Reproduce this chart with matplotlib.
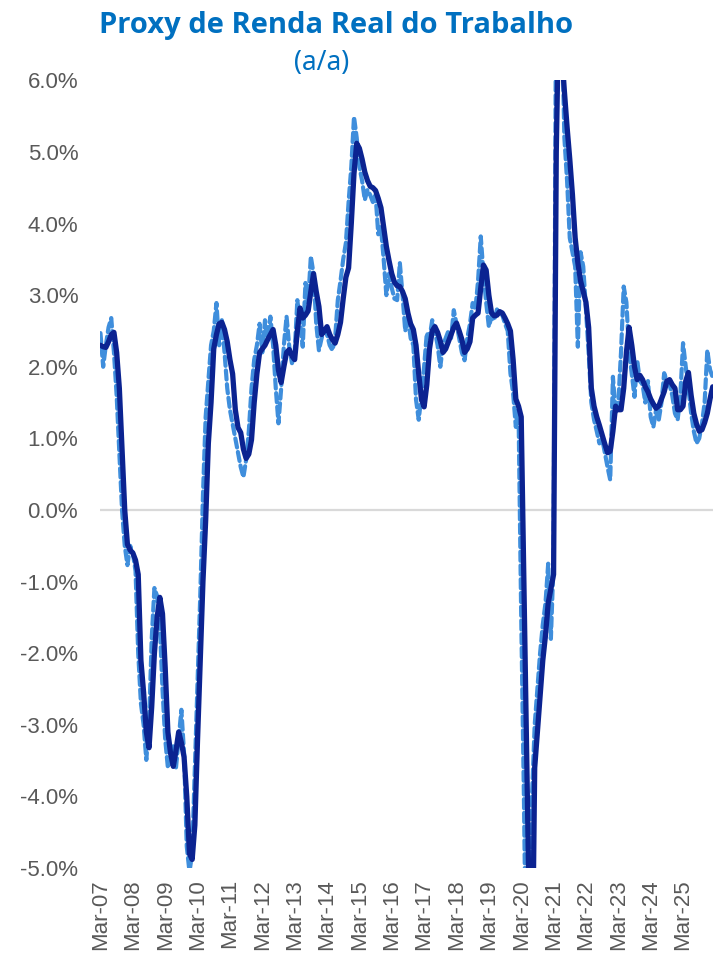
import matplotlib
matplotlib.use("Agg")
import matplotlib.pyplot as plt
import numpy as np

# Monthly series, Mar-07 onward (% a/a)
monthly = [
    2.47, 2.00, 2.30, 2.55, 2.68, 2.20, 1.60, 0.80, 0.00, -0.50,
    -0.77, -0.50, -0.60, -0.85, -2.00, -2.70, -3.00, -3.49, -3.00, -1.80,
    -1.09, -1.20, -1.60, -2.50, -3.20, -3.60, -3.45, -3.30, -3.60, -3.20,
    -2.79, -3.40, -4.70, -5.05, -4.80, -3.60, -2.40, -1.20, 0.20, 1.30,
    1.80, 2.30, 2.50, 2.89, 2.30, 2.65, 2.20, 1.70, 1.40, 1.20,
    1.00, 0.80, 0.60, 0.46, 0.70, 1.10, 1.70, 2.10, 2.30, 2.60,
    2.20, 2.65, 2.40, 2.70, 2.30, 1.70, 1.21, 1.70, 2.30, 2.70,
    2.28, 2.05, 2.20, 2.93, 2.60, 2.28, 3.17, 2.90, 3.54, 3.30,
    2.60, 2.23, 2.40, 2.51, 2.45, 2.30, 2.23, 2.40, 2.93, 3.20,
    3.50, 3.73, 4.30, 4.79, 5.49, 5.20, 4.79, 4.60, 4.33, 4.47,
    4.40, 4.30, 4.40, 3.85, 3.95, 3.50, 3.00, 3.30, 3.10, 2.95,
    2.93, 3.45, 3.00, 2.50, 2.70, 2.40, 2.30, 1.54, 1.26, 1.60,
    2.00, 2.47, 2.40, 2.65, 2.50, 2.30, 2.00, 2.30, 2.40, 2.50,
    2.40, 2.79, 2.60, 2.40, 2.20, 2.09, 2.40, 2.60, 2.89, 2.80,
    3.20, 3.82, 3.30, 2.90, 2.56, 2.70, 2.65, 2.80, 2.75, 2.72,
    2.60, 2.50, 1.91, 1.63, 1.16, 1.40, -1.50, -4.00, -7.00, -6.50,
    -4.00, -3.00, -2.50, -2.00, -1.60, -1.30, -0.75, -1.80, -0.70, 8.00,
    9.00, 7.00, 5.20, 4.60, 3.80, 3.60, 3.40, 2.28, 3.60, 3.40,
    2.80, 2.20, 1.50, 1.26, 1.10, 0.93, 1.00, 0.80, 0.60, 0.42,
    1.86, 1.35, 1.50, 2.20, 3.12, 2.90, 2.20, 1.90, 1.58, 2.09,
    1.80, 1.75, 1.50, 1.80, 1.30, 1.16, 1.40, 1.26, 1.50, 1.91,
    1.80, 1.75, 1.60, 1.35, 1.26, 1.60, 2.33, 2.00, 1.70, 1.35,
    1.10, 0.93, 1.00, 1.20, 1.50, 2.23, 1.96, 1.85,
]

# Smoothed series (% a/a)
smoothed = [
    2.30, 2.28, 2.27, 2.35, 2.45, 2.48, 2.20, 1.70, 0.85, 0.00,
    -0.48, -0.56, -0.60, -0.70, -0.90, -2.10, -2.55, -3.10, -3.32, -2.75,
    -2.00, -1.50, -1.22, -1.45, -2.20, -3.10, -3.40, -3.58, -3.36, -3.10,
    -3.25, -3.45, -4.00, -4.80, -4.88, -4.40, -3.20, -2.10, -1.00, -0.15,
    0.93, 1.50, 2.25, 2.45, 2.60, 2.62, 2.52, 2.35, 2.10, 1.90,
    1.40, 1.15, 1.08, 0.85, 0.72, 0.78, 0.98, 1.50, 1.90, 2.20,
    2.25, 2.30, 2.38, 2.45, 2.52, 2.30, 1.95, 1.78, 2.00, 2.20,
    2.24, 2.15, 2.10, 2.50, 2.82, 2.68, 2.72, 2.78, 3.05, 3.30,
    3.05, 2.84, 2.45, 2.50, 2.56, 2.45, 2.38, 2.33, 2.45, 2.62,
    2.95, 3.25, 3.38, 4.00, 4.70, 5.12, 5.05, 4.90, 4.72, 4.60,
    4.52, 4.50, 4.46, 4.35, 4.22, 3.95, 3.68, 3.48, 3.30, 3.18,
    3.13, 3.12, 3.05, 2.95, 2.75, 2.60, 2.52, 2.30, 1.90, 1.55,
    1.44, 1.75, 2.25, 2.50, 2.56, 2.48, 2.36, 2.20, 2.25, 2.35,
    2.45, 2.55, 2.61, 2.50, 2.38, 2.20, 2.25, 2.35, 2.68, 2.72,
    2.75, 3.10, 3.42, 3.35, 3.00, 2.75, 2.71, 2.72, 2.77, 2.75,
    2.68, 2.60, 2.50, 2.10, 1.55, 1.45, 1.30, -1.00, -3.35, -5.70,
    -6.90, -3.60, -3.10, -2.60, -2.10, -1.75, -1.30, -1.10, -0.90, 5.00,
    7.20, 6.40, 5.85, 5.35, 4.90, 4.40, 3.80, 3.45, 3.20, 3.05,
    2.90, 2.55, 1.70, 1.45, 1.30, 1.18, 1.05, 0.92, 0.80, 0.82,
    1.10, 1.45, 1.40, 1.40, 1.70, 2.20, 2.55, 2.30, 2.00, 1.82,
    1.88, 1.82, 1.72, 1.65, 1.55, 1.48, 1.42, 1.45, 1.55, 1.65,
    1.80, 1.82, 1.75, 1.70, 1.40, 1.40, 1.45, 1.80, 1.92, 1.60,
    1.35, 1.20, 1.10, 1.12, 1.22, 1.35, 1.55, 1.72,
]

tick_labels = ["Mar-07", "Mar-08", "Mar-09", "Mar-10", "Mar-11", "Mar-12",
               "Mar-13", "Mar-14", "Mar-15", "Mar-16", "Mar-17", "Mar-18",
               "Mar-19", "Mar-20", "Mar-21", "Mar-22", "Mar-23", "Mar-24",
               "Mar-25"]
y_ticks = [-5, -4, -3, -2, -1, 0, 1, 2, 3, 4, 5, 6]

TITLE_BLUE = "#0070C0"
LABEL_GREY = "#595959"

plt.rcParams["font.family"] = ["Liberation Sans", "DejaVu Sans"]

fig = plt.figure(figsize=(7.28, 9.56), dpi=100)
ax = fig.add_axes([0.138, 0.092, 0.841, 0.824])

x = np.arange(len(smoothed))
ax.axhline(0, color="#D9D9D9", lw=1.6, zorder=1)
ax.plot(np.arange(len(monthly)), monthly, color="#3F8EDC", lw=3.0,
        linestyle=(0, (2.2, 1.1)), dash_capstyle="round", zorder=2)
ax.plot(x, smoothed, color="#0B2391", lw=3.8, solid_joinstyle="round",
        solid_capstyle="round", zorder=3)

ax.set_xlim(0, len(smoothed) - 1)
ax.set_ylim(-5, 6)
ax.set_yticks(y_ticks)
ax.set_yticklabels([f"{v:.1f}%" for v in y_ticks])
ax.set_xticks(np.arange(len(tick_labels)) * 12)
ax.set_xticklabels(tick_labels, rotation=90)
ax.tick_params(axis="y", length=0, pad=16, labelsize=16, labelcolor=LABEL_GREY)
ax.tick_params(axis="x", length=0, pad=8, labelsize=16, labelcolor=LABEL_GREY)
for s in ax.spines.values():
    s.set_visible(False)

fig.text(0.462, 0.973, "Proxy de Renda Real do Trabalho", ha="center",
         va="center", color=TITLE_BLUE, fontsize=21, fontweight="bold",
         family=["Open Sans", "DejaVu Sans"])
fig.text(0.442, 0.934, "(a/a)", ha="center", va="center", color=TITLE_BLUE,
         fontsize=19, fontweight="normal", fontstyle="normal",
         family=["Noto Sans", "DejaVu Sans"])

fig.savefig("out.png", dpi=100)
